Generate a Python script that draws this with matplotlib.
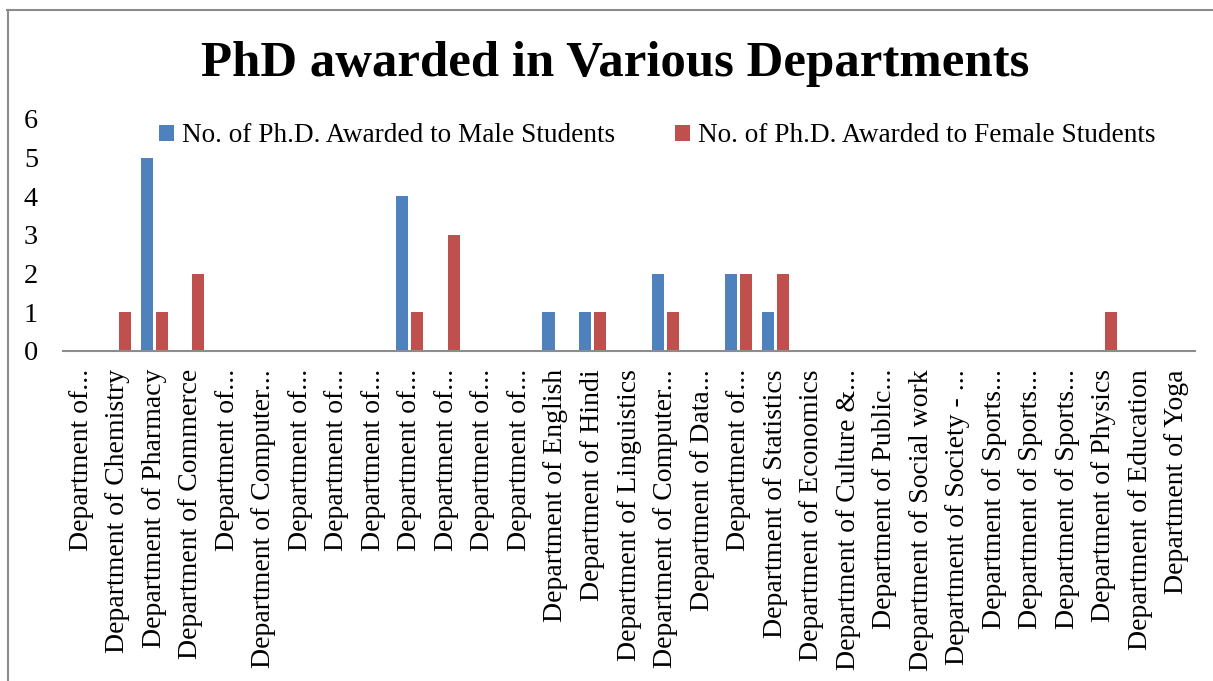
import numpy as np
import matplotlib
matplotlib.use('Agg')
import matplotlib.pyplot as plt
from matplotlib.lines import Line2D

plt.rcParams['font.family'] = ['Liberation Serif', 'DejaVu Serif']

labels = ['Department of...', 'Department of Chemistry', 'Department of Pharmacy',
          'Department of Commerce', 'Department of...', 'Department of Computer...',
          'Department of...', 'Department of...', 'Department of...', 'Department of...',
          'Department of...', 'Department of...', 'Department of...',
          'Department of English', 'Department of Hindi', 'Department of Linguistics',
          'Department of Computer...', 'Department of Data...', 'Department of...',
          'Department of Statistics', 'Department of Economics',
          'Department of Culture &...', 'Department of Public...',
          'Department of Social work', 'Department of Society - ...',
          'Department of Sports...', 'Department of Sports...', 'Department of Sports...',
          'Department of Physics', 'Department of Education', 'Department of Yoga']
male = [0, 0, 5, 0, 0, 0, 0, 0, 0, 4, 0, 0, 0, 1, 1, 0, 2, 0, 2, 1,
        0, 0, 0, 0, 0, 0, 0, 0, 0, 0, 0]
female = [0, 1, 1, 2, 0, 0, 0, 0, 0, 1, 3, 0, 0, 0, 1, 0, 1, 0, 2, 2,
          0, 0, 0, 0, 0, 0, 0, 0, 1, 0, 0]
yticks = [0, 1, 2, 3, 4, 5, 6]

W, H = 1213, 681
fig = plt.figure(figsize=(W/100, H/100), dpi=100, facecolor='white')

# outer frame (left + top visible)
fig.add_artist(Line2D([7.5/W, 7.5/W], [0, 1 - 10/H], color='#8c8c8c', lw=1.5))
fig.add_artist(Line2D([7/W, 1], [1 - 10/H, 1 - 10/H], color='#8c8c8c', lw=1.5))

left, right, top, bottom = 63, 1195, 119, 351
ax = fig.add_axes([left/W, (H-bottom)/H, (right-left)/W, (bottom-top)/H])

x = np.arange(len(labels))
bw = 0.33
off = 0.205
ax.bar(x - off, male, bw, color='#4F81BD', label='No. of Ph.D. Awarded to Male Students')
ax.bar(x + off, female, bw, color='#C0504D', label='No. of Ph.D. Awarded to Female Students')

ax.set_xlim(-0.5, len(labels) - 0.5)
ax.set_ylim(0, 6)
ax.set_yticks(yticks)
ax.set_xticks(x)
ax.set_xticklabels(labels, rotation=90, fontsize=20)
ax.tick_params(axis='x', length=0, pad=13)
ax.tick_params(axis='y', length=0, pad=18, labelsize=20.3)

for s in ['top', 'right', 'left']:
    ax.spines[s].set_visible(False)
ax.spines['bottom'].set_color('#8c8c8c')
ax.spines['bottom'].set_linewidth(1.5)

fig.legend(loc='center', bbox_to_anchor=(657/W, 1 - 136/H), ncol=2, frameon=False,
           fontsize=19.6, handlelength=0.55, handleheight=0.55, handletextpad=0.3,
           columnspacing=2.2, borderpad=0)

fig.text(615/W, 1 - 76/H, 'PhD awarded in Various Departments', ha='center',
         va='baseline', fontsize=36.6, fontweight='bold')

plt.savefig('out.png', dpi=100, facecolor='white')
